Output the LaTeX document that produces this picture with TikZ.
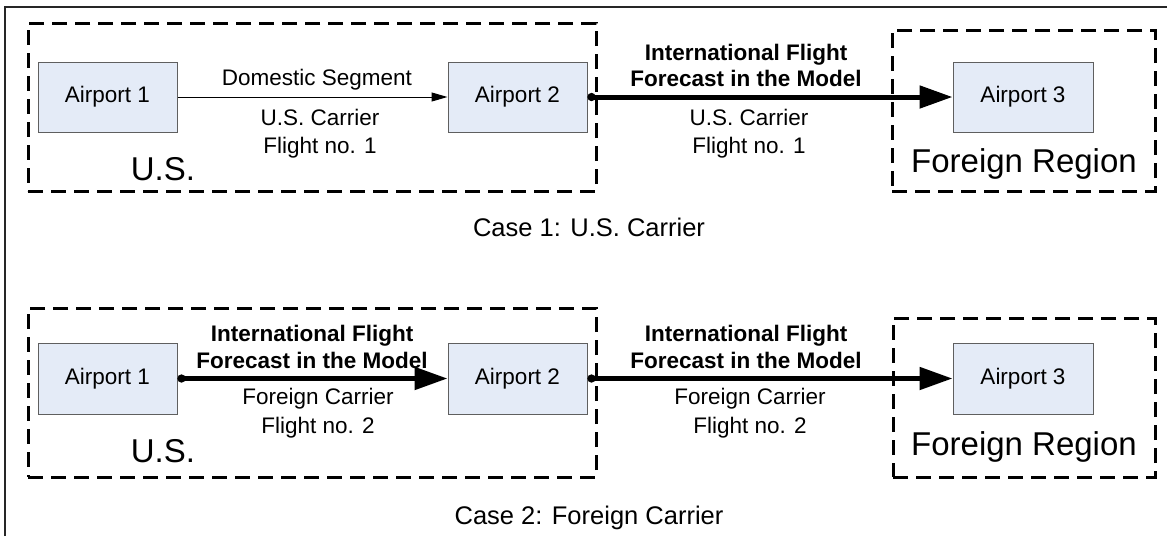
\documentclass[tikz,border=0pt]{standalone}
\usepackage{fontspec}
\setmainfont{Liberation Sans}
\usetikzlibrary{arrows.meta}

\definecolor{apfill}{RGB}{228,235,247}
\definecolor{apline}{RGB}{95,95,95}

\tikzset{
  airport/.style={draw=apline, fill=apfill, line width=1pt, inner sep=0pt,
    minimum width=139pt, minimum height=70pt, font=\fontsize{22.5}{27}\selectfont},
  region/.style={draw=black, dashed, dash pattern=on 15pt off 8pt, line width=3pt,
    inner sep=0pt},
  lbl/.style={inner sep=0pt, text height=16pt, text depth=0pt,
    font=\fontsize{22.5}{27}\selectfont},
  blbl/.style={lbl, font=\fontsize{22.5}{27}\selectfont\bfseries},
  reglbl/.style={inner sep=0pt, text height=24pt, text depth=0pt,
    font=\fontsize{33}{40}\selectfont},
  caselbl/.style={inner sep=0pt, text height=18pt, text depth=0pt,
    font=\fontsize{25.5}{30}\selectfont},
  domestic/.style={line width=1pt, -{Triangle[length=16pt,width=9pt]}},
  intl/.style={line width=5pt, {Circle[length=8pt]}-{Triangle[length=33pt,width=22pt]}},
}

\begin{document}
\begin{tikzpicture}[x=1pt, y=-1pt]
  \useasboundingbox (0,0) rectangle (1167,536);

  % frame
  \coordinate (fr1) at (5,536);
  \coordinate (fr2) at (5,7);
  \coordinate (fr3) at (1167,7);
  \draw[line width=2pt, black!85] (fr1) -- (fr2) -- (fr3);

  % ---------- Case 1 ----------
  \node[region, minimum width=568pt, minimum height=168pt] (us1) at (312,107) {};
  \node[region, minimum width=263pt, minimum height=161pt] (fr1box) at (1023.5,110.5) {};

  \node[airport] (a1t) at (107.5,97) {Airport 1};
  \node[airport] (a2t) at (517.5,97) {Airport 2};
  \node[airport, minimum width=140pt] (a3t) at (1023,97) {Airport 3};

  \draw[domestic] (a1t.east) -- (a2t.west);
  \draw[intl] (a2t.east) -- (a3t.west);

  \node[lbl] (d1) at (317,77) {Domestic Segment};
  \node[lbl] (d2) at (320,117) {U.S. Carrier};
  \node[lbl] (d3) at (320,145) {Flight no. 1};

  \node[blbl] (i1) at (746,52) {International Flight};
  \node[blbl] (i2) at (746,78) {Forecast in the Model};
  \node[lbl] (i3) at (749,117) {U.S. Carrier};
  \node[lbl] (i4) at (749,145) {Flight no. 1};

  \node[reglbl] (usl1) at (163,168) {U.S.};
  \node[reglbl] (frl1) at (1024,160) {Foreign Region};

  \node[caselbl] (case1) at (589,227) {Case 1: U.S. Carrier};

  % ---------- Case 2 ----------
  \node[region, minimum width=568pt, minimum height=169pt] (us2) at (312,392.5) {};
  \node[region, minimum width=262pt, minimum height=159pt] (fr2box) at (1024,397.5) {};

  \node[airport, minimum height=71pt] (a1b) at (107.5,378.5) {Airport 1};
  \node[airport, minimum height=71pt] (a2b) at (517.5,378.5) {Airport 2};
  \node[airport, minimum width=140pt, minimum height=71pt] (a3b) at (1023,378.5) {Airport 3};

  \draw[intl] (a1b.east) -- (a2b.west);
  \draw[intl] (a2b.east) -- (a3b.west);

  \node[blbl] (j1) at (312,333) {International Flight};
  \node[blbl] (j2) at (312,360) {Forecast in the Model};
  \node[lbl] (j3) at (318,396) {Foreign Carrier};
  \node[lbl] (j4) at (318,425) {Flight no. 2};

  \node[blbl] (k1) at (746,333) {International Flight};
  \node[blbl] (k2) at (746,360) {Forecast in the Model};
  \node[lbl] (k3) at (750,396) {Foreign Carrier};
  \node[lbl] (k4) at (750,425) {Flight no. 2};

  \node[reglbl] (usl2) at (163,450) {U.S.};
  \node[reglbl] (frl2) at (1024,443) {Foreign Region};

  \node[caselbl] (case2) at (589,515) {Case 2: Foreign Carrier};
\end{tikzpicture}
\end{document}
